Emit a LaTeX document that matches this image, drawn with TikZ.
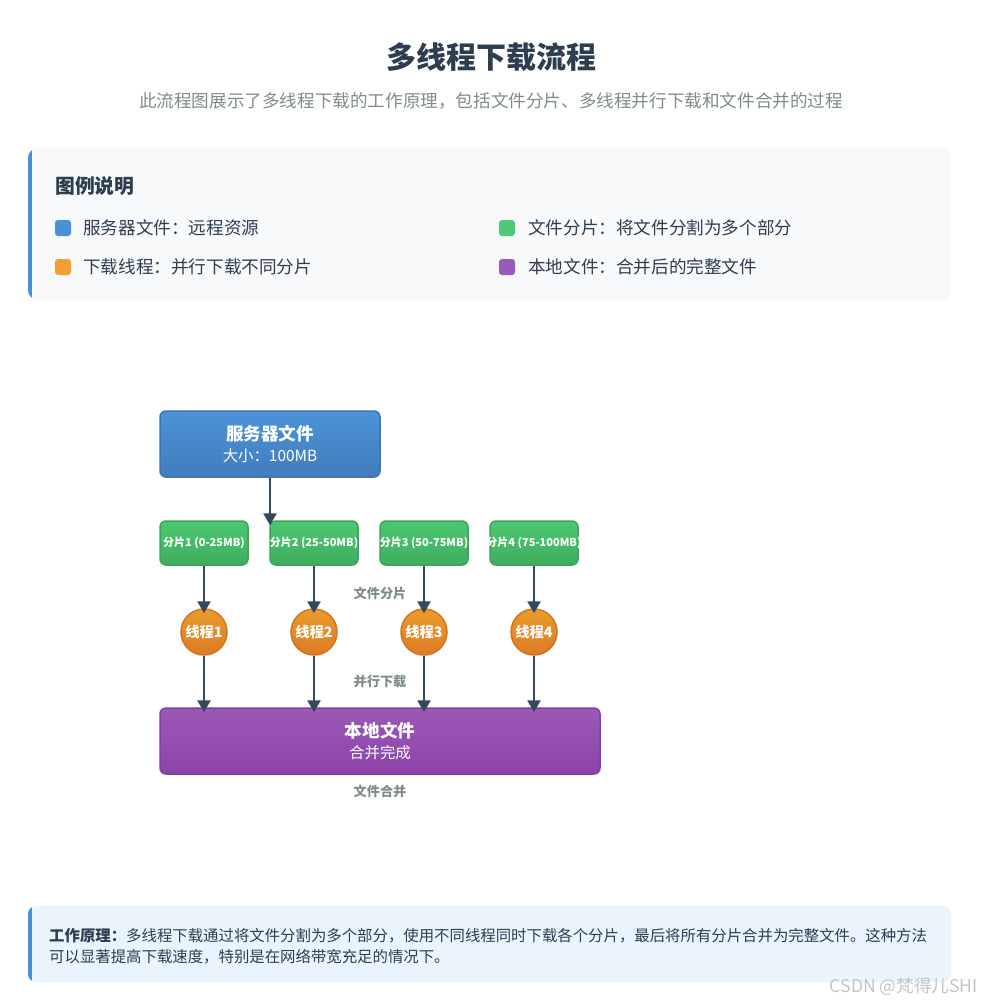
\documentclass[tikz,border=0pt]{standalone}
\usepackage{fontspec}
\setmainfont{Noto Sans CJK SC}
\usetikzlibrary{arrows.meta}
\definecolor{ink}{HTML}{2C3E50}
\definecolor{muted}{HTML}{7F8C8D}
\definecolor{arrowc}{HTML}{34495E}
\definecolor{srvtop}{HTML}{4C92D8}
\definecolor{srvbot}{HTML}{427DBD}
\definecolor{srvline}{HTML}{3C74B0}
\definecolor{chktop}{HTML}{4CC870}
\definecolor{chkbot}{HTML}{40AD5E}
\definecolor{chkline}{HTML}{3AA558}
\definecolor{thrtop}{HTML}{EA9C2C}
\definecolor{thrbot}{HTML}{DD7B25}
\definecolor{thrline}{HTML}{D27422}
\definecolor{loctop}{HTML}{9B59B6}
\definecolor{locbot}{HTML}{8C43AA}
\definecolor{locline}{HTML}{8340A2}
\definecolor{legendbg}{HTML}{F7F9FB}
\definecolor{notebg}{HTML}{EAF4FC}
\definecolor{accent}{HTML}{4A90D9}
\definecolor{swgreen}{HTML}{50C878}
\definecolor{sworange}{HTML}{F0A030}
\definecolor{wmark}{HTML}{C4C4C4}
\newcommand{\fs}[1]{\fontsize{#1}{1.25\dimexpr#1pt\relax}\selectfont}

\begin{document}
\begin{tikzpicture}[x=1pt,y=-1pt,
  srv/.style={draw=srvline,line width=1.5pt,rounded corners=6pt,top color=srvtop,bottom color=srvbot,minimum width=220pt,minimum height=66pt,text=white,align=center,font=\fs{15.4},inner sep=0pt},
  chunk/.style={draw=chkline,line width=1.5pt,rounded corners=6pt,top color=chktop,bottom color=chkbot,minimum width=88pt,minimum height=44pt,text=white,font=\fs{11}\bfseries,inner sep=0pt},
  thread/.style={circle,draw=thrline,line width=1.5pt,top color=thrtop,bottom color=thrbot,minimum size=46pt,text=white,font=\fs{14.3}\bfseries,inner sep=0pt},
  local/.style={draw=locline,line width=1.5pt,rounded corners=6pt,top color=loctop,bottom color=locbot,minimum width=440pt,minimum height=66pt,text=white,align=center,font=\fs{15.4},inner sep=0pt},
  flow/.style={arrowc,line width=2.5pt,-{Triangle[length=12pt,width=13pt]},shorten >=-5pt},
  stage/.style={muted,font=\fs{13.2}\bfseries},
  swatch/.style={rounded corners=3pt,minimum size=16pt,inner sep=0pt},
  item/.style={anchor=west,text=ink,font=\fs{17.6},inner sep=0pt},
]
  \useasboundingbox (0,0) rectangle (982,1004);
  \fill[white] (0,0) rectangle (982,1004);

  % heading
  \node[ink,font=\fs{30}\bfseries] (title) at (491,57) {多线程下载流程};
  \node[muted,font=\fs{17.6}] (sub) at (491,101) {此流程图展示了多线程下载的工作原理，包括文件分片、多线程并行下载和文件合并的过程};

  % legend
  \fill[legendbg,rounded corners=10pt] (28,148) rectangle (951,300);
  \begin{scope}
    \clip[rounded corners=10pt] (28,148) rectangle (951,300);
    \fill[accent] (28,148) rectangle (32,300);
  \end{scope}
  \node[item,font=\fs{19.8}\bfseries] (lt) at (55,186) {图例说明};
  \node[swatch,fill=accent] (s1) at (63,228) {};
  \node[item] (l1) at (83,228) {服务器文件：远程资源};
  \node[swatch,fill=sworange] (s2) at (63,267) {};
  \node[item] (l2) at (83,267) {下载线程：并行下载不同分片};
  \node[swatch,fill=swgreen] (s3) at (507,228) {};
  \node[item] (l3) at (528,228) {文件分片：将文件分割为多个部分};
  \node[swatch,fill=loctop] (s4) at (507,267) {};
  \node[item] (l4) at (528,267) {本地文件：合并后的完整文件};

  % diagram
  \node[srv] (srv) at (270,444) {{\fs{17.6}\bfseries 服务器文件}\\[2pt]大小：100MB};
  \foreach \i/\x/\r in {1/204/0-25MB,2/314/25-50MB,3/424/50-75MB,4/534/75-100MB}{
    \node[chunk] (c\i) at (\x,543) {\raisebox{2pt}{\makebox[0pt]{分片\i\ (\r)}}};
    \node[thread] (t\i) at (\x,632) {线程\i};
  }
  \node[local] (loc) at (380,741) {{\fs{17.6}\bfseries 本地文件}\\[2pt]合并完成};

  \draw[flow] (srv.south) -- (srv.south |- c2.north);
  \foreach \i in {1,2,3,4}{
    \draw[flow] (c\i) -- (t\i);
    \draw[flow] (t\i) -- (t\i |- loc.north);
  }

  \node[stage] (s-split) at (380,593) {文件分片};
  \node[stage] (s-down) at (380,681) {并行下载};
  \node[stage] (s-merge) at (380,791) {文件合并};

  % note
  \fill[notebg,rounded corners=8pt] (28,906) rectangle (951,982);
  \begin{scope}
    \clip[rounded corners=8pt] (28,906) rectangle (951,982);
    \fill[accent] (28,906) rectangle (32,982);
  \end{scope}
  \node[anchor=west,text=ink,font=\fs{15.4},inner sep=0pt,align=left] (note) at (49,946)
    {\textbf{工作原理：}多线程下载通过将文件分割为多个部分，使用不同线程同时下载各个分片，最后将所有分片合并为完整文件。这种方法\\[2pt]
     可以显著提高下载速度，特别是在网络带宽充足的情况下。};

  \node[anchor=east,text=wmark,font=\fs{17.6},inner sep=0pt] (mark) at (978,987) {CSDN @梵得儿SHI};
\end{tikzpicture}
\end{document}
